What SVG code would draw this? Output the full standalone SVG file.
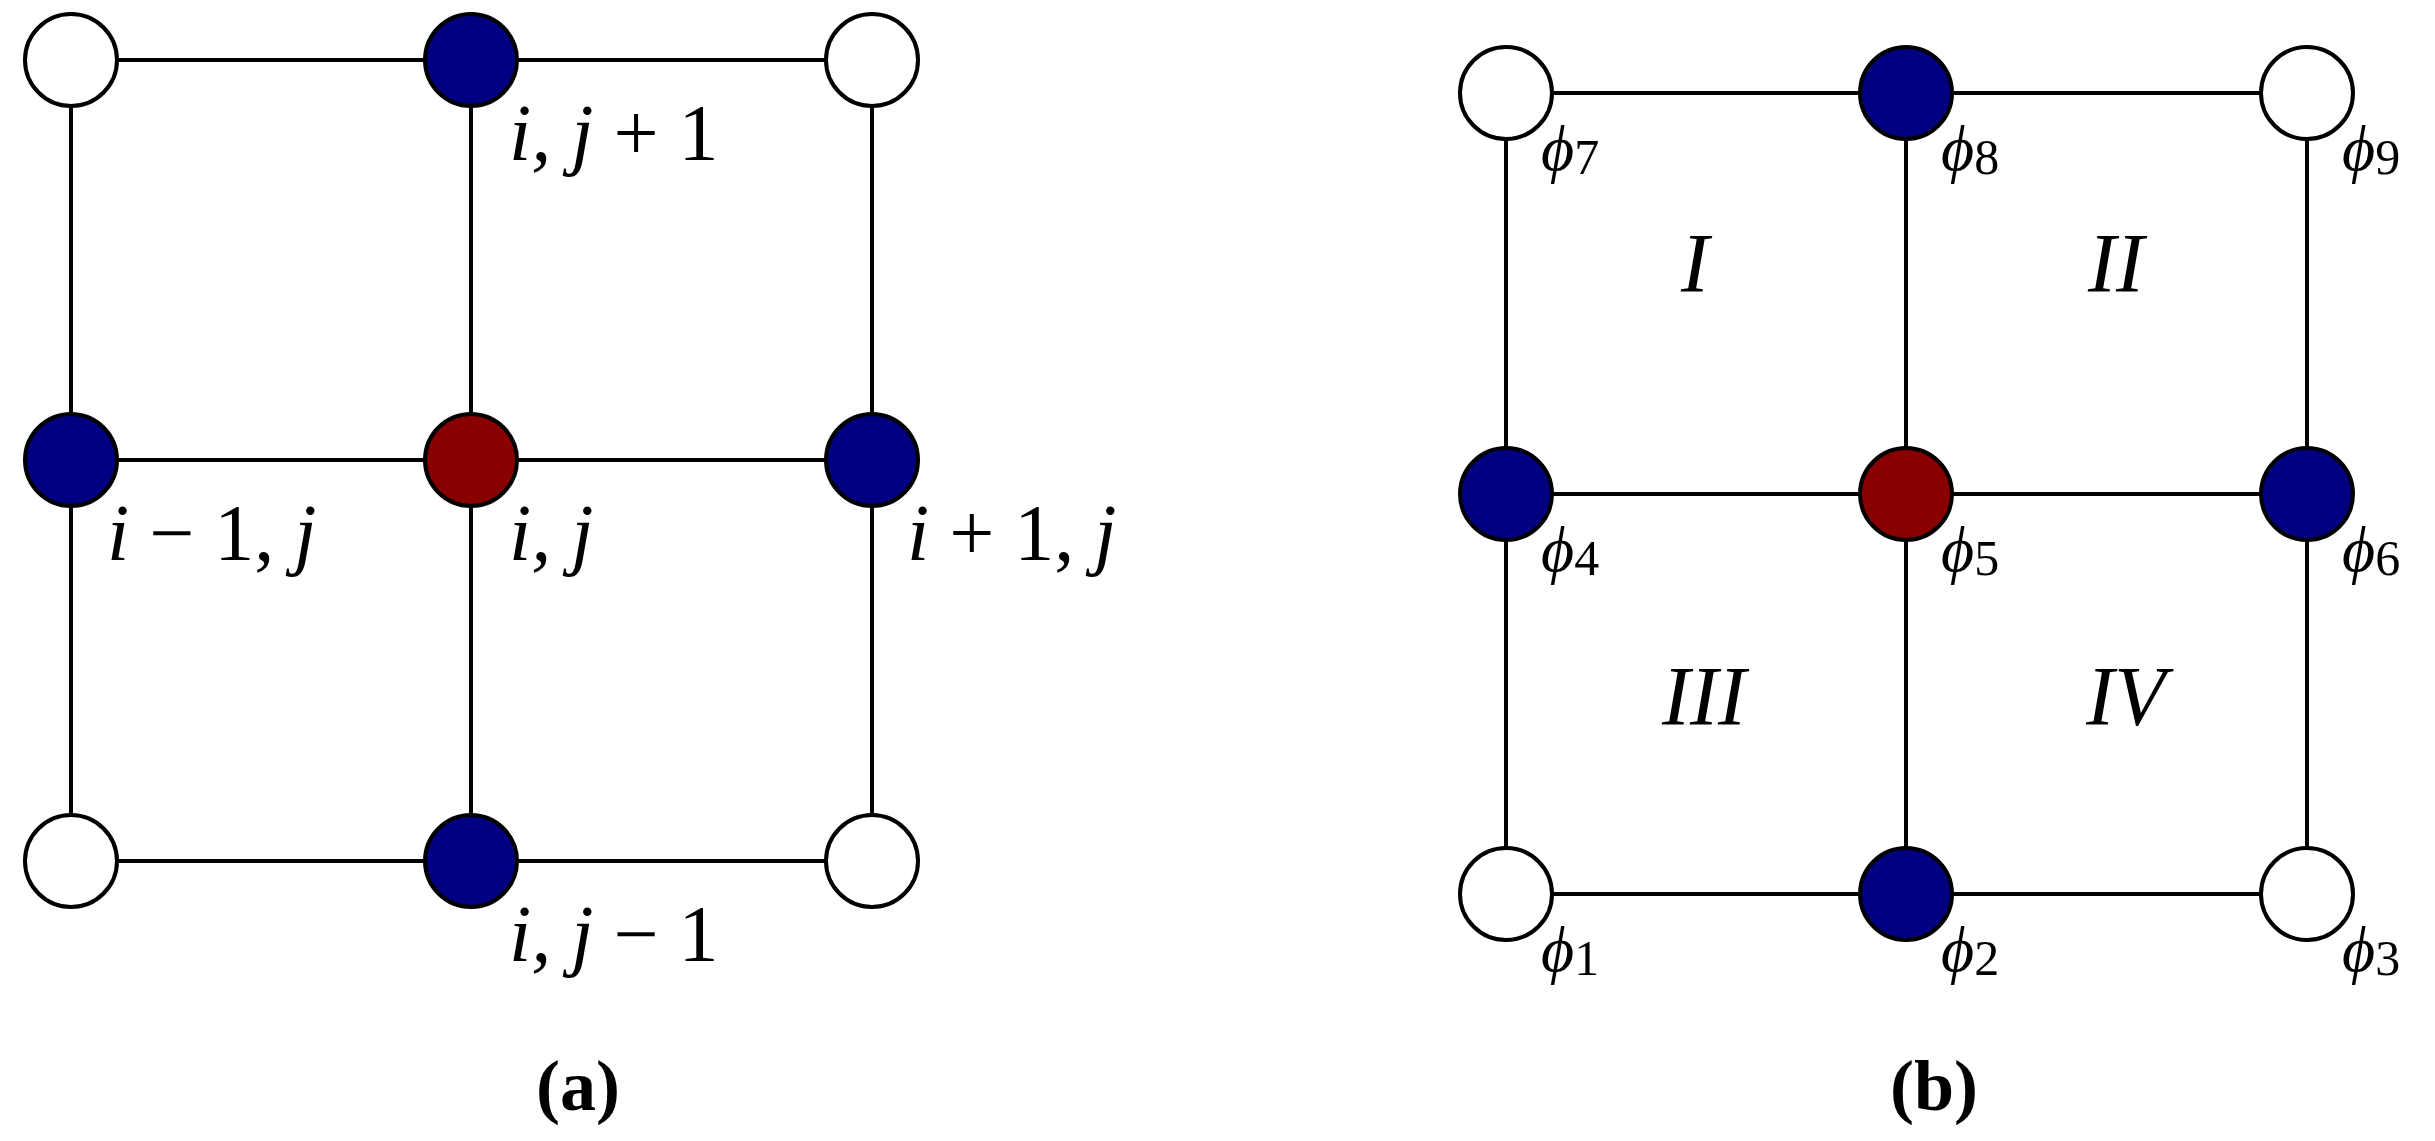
<svg xmlns="http://www.w3.org/2000/svg" width="2435" height="1141" viewBox="0 0 2435 1141">
<style>
.e{stroke:#000;stroke-width:4;fill:none}
.n{stroke:#000;stroke-width:4}
.w{fill:#fff}.b{fill:#000080}.r{fill:#880000}
.t{font-family:"Liberation Serif",serif;font-style:italic;font-size:80px;fill:#000}
.p{font-family:"Liberation Serif",serif;font-style:italic;font-size:64px;fill:#000}
.s{font-style:normal;font-size:50px}
.R{font-family:"Liberation Serif",serif;font-style:italic;font-size:84px;fill:#000;text-anchor:middle}
.c{font-family:"Liberation Serif",serif;font-weight:bold;font-size:72px;fill:#000;text-anchor:middle}
</style>
<rect width="2435" height="1141" fill="#fff"/>
<g id="connectors" class="e">
<path d="M71 60H872M71 460H872M71 861H872M71 60V861M471 60V861M872 60V861"/>
<path d="M1506 93H2307M1506 494H2307M1506 894H2307M1506 93V894M1906 93V894M2307 93V894"/>
</g>
<g id="a11"><circle class="n w" cx="71" cy="60" r="46"/></g>
<g id="a21"><circle class="n b" cx="471" cy="60" r="46"/><text class="t" x="509" y="160">i, j <tspan font-style="normal">+ 1</tspan></text></g>
<g id="a31"><circle class="n w" cx="872" cy="60" r="46"/></g>
<g id="a12"><circle class="n b" cx="71" cy="460" r="46"/><text class="t" x="107" y="560">i <tspan font-style="normal">− 1,</tspan> j</text></g>
<g id="a22"><circle class="n r" cx="471" cy="460" r="46"/><text class="t" x="509" y="560">i, j</text></g>
<g id="a32"><circle class="n b" cx="872" cy="460" r="46"/><text class="t" x="907" y="560">i <tspan font-style="normal">+ 1,</tspan> j</text></g>
<g id="a13"><circle class="n w" cx="71" cy="861" r="46"/></g>
<g id="a23"><circle class="n b" cx="471" cy="861" r="46"/><text class="t" x="509" y="961">i, j <tspan font-style="normal">− 1</tspan></text></g>
<g id="a33"><circle class="n w" cx="872" cy="861" r="46"/></g>
<text class="c" x="578" y="1110">(a)</text>
<g id="phi7"><circle class="n w" cx="1506" cy="93" r="46"/><text class="p" x="1541" y="170">ϕ<tspan class="s" dy="4">7</tspan></text></g>
<g id="phi8"><circle class="n b" cx="1906" cy="93" r="46"/><text class="p" x="1941" y="170">ϕ<tspan class="s" dy="4">8</tspan></text></g>
<g id="phi9"><circle class="n w" cx="2307" cy="93" r="46"/><text class="p" x="2342" y="170">ϕ<tspan class="s" dy="4">9</tspan></text></g>
<g id="phi4"><circle class="n b" cx="1506" cy="494" r="46"/><text class="p" x="1541" y="571">ϕ<tspan class="s" dy="4">4</tspan></text></g>
<g id="phi5"><circle class="n r" cx="1906" cy="494" r="46"/><text class="p" x="1941" y="571">ϕ<tspan class="s" dy="4">5</tspan></text></g>
<g id="phi6"><circle class="n b" cx="2307" cy="494" r="46"/><text class="p" x="2342" y="571">ϕ<tspan class="s" dy="4">6</tspan></text></g>
<g id="phi1"><circle class="n w" cx="1506" cy="894" r="46"/><text class="p" x="1541" y="971">ϕ<tspan class="s" dy="4">1</tspan></text></g>
<g id="phi2"><circle class="n b" cx="1906" cy="894" r="46"/><text class="p" x="1941" y="971">ϕ<tspan class="s" dy="4">2</tspan></text></g>
<g id="phi3"><circle class="n w" cx="2307" cy="894" r="46"/><text class="p" x="2342" y="971">ϕ<tspan class="s" dy="4">3</tspan></text></g>
<text class="R" x="1695" y="292">I</text>
<text class="R" x="2116" y="292">II</text>
<text class="R" x="1704" y="725">III</text>
<text class="R" x="2126" y="725">IV</text>
<text class="c" x="1934" y="1110">(b)</text>
</svg>
